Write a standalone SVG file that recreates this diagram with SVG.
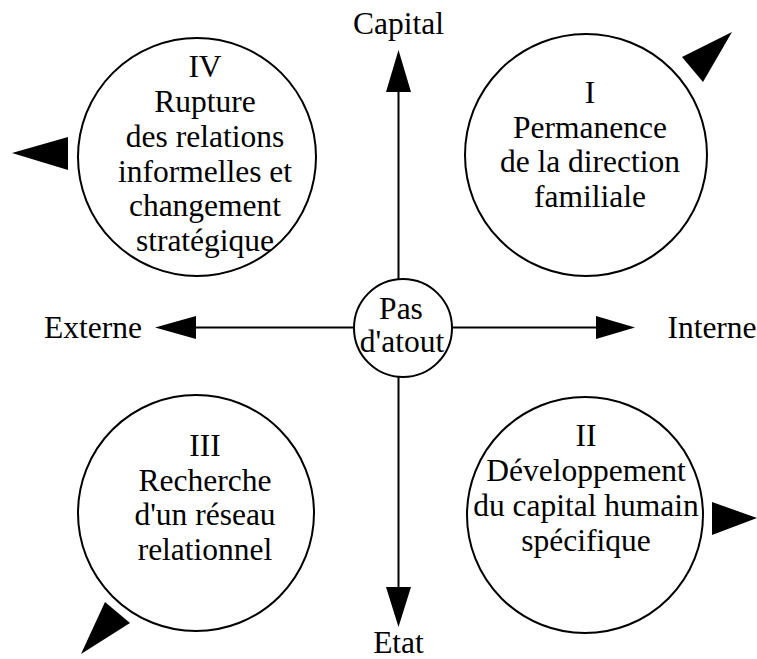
<svg xmlns="http://www.w3.org/2000/svg" width="757" height="659" viewBox="0 0 757 659" font-family="'Liberation Serif', 'Times New Roman', 'DejaVu Serif', serif">
<defs>
<style>
text{font-family:'Liberation Serif','Times New Roman','DejaVu Serif',serif;font-size:31.5px;fill:#000;text-anchor:middle}
.ring{fill:#fff;stroke:#000;stroke-width:2}
.axis{stroke:#000;stroke-width:2;fill:none}
.head{fill:#000;stroke:none}
</style>
</defs>
<rect width="757" height="659" fill="#fff"/>
<g id="connectors">
<line class="axis" x1="398.5" y1="90" x2="398.5" y2="589"/>
<line class="axis" x1="194" y1="327.5" x2="598" y2="327.5"/>
<polygon class="head" points="398.5,50 386,92 411,92"/>
<polygon class="head" points="398.5,627 386,587 411,587"/>
<polygon class="head" points="155,327.5 196,316 196,339"/>
<polygon class="head" points="635,327.5 596,316 596,339"/>
<polygon class="head" points="732,32 682,57 703,82"/>
<polygon class="head" points="12,153 68,137 68,170"/>
<polygon class="head" points="757,518 712,502 712,535"/>
<polygon class="head" points="105,602 130,623 81,654"/>
</g>
<g id="axis-labels">
<text x="398.5" y="34">Capital</text>
<text x="398.5" y="653">Etat</text>
<text x="93" y="338">Externe</text>
<text x="712" y="338">Interne</text>
</g>
<g id="node-center">
<circle class="ring" cx="403" cy="328" r="49"/>
<text x="401" y="319">Pas</text>
<text x="402" y="352">d'atout</text>
</g>
<g id="node-IV">
<circle class="ring" cx="197" cy="157" r="119"/>
<text x="205" y="77">IV</text>
<text x="205" y="112">Rupture</text>
<text x="205" y="147">des relations</text>
<text x="205" y="182">informelles et</text>
<text x="205" y="216">changement</text>
<text x="205" y="251">stratégique</text>
</g>
<g id="node-I">
<circle class="ring" cx="586" cy="155" r="121"/>
<text x="590" y="103">I</text>
<text x="590" y="138">Permanence</text>
<text x="590" y="172">de la direction</text>
<text x="590" y="207">familiale</text>
</g>
<g id="node-III">
<circle class="ring" cx="196" cy="513" r="118"/>
<text x="205" y="456">III</text>
<text x="205" y="491">Recherche</text>
<text x="205" y="525">d'un réseau</text>
<text x="205" y="560">relationnel</text>
</g>
<g id="node-II">
<circle class="ring" cx="585" cy="515" r="118"/>
<text x="586" y="446">II</text>
<text x="586" y="481">Développement</text>
<text x="586" y="516">du capital humain</text>
<text x="586" y="551">spécifique</text>
</g>
</svg>
